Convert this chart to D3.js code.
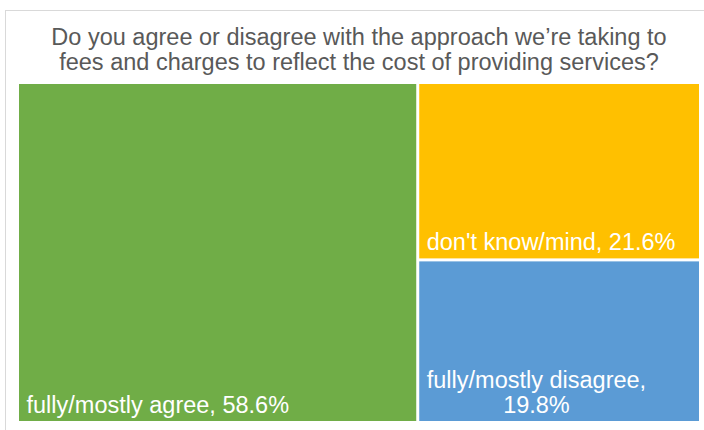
<!DOCTYPE html>
<html>
<head>
<meta charset="utf-8">
<script src="https://cdn.jsdelivr.net/npm/d3@7"></script>
<style>
  html, body { margin: 0; padding: 0; background: #ffffff; }
  svg { display: block; }
  text { font-family: "Liberation Sans", Arial, sans-serif; }
</style>
</head>
<body>
<svg id="chart" width="704" height="430"></svg>
<script>
// Survey responses: share of respondents per answer
const categories = ["fully/mostly agree", "don't know/mind", "fully/mostly disagree"];
const shares = [58.6, 21.6, 19.8];
const colors = ["#70AD47", "#FFC000", "#5B9BD5"];
const titleLines = [
  "Do you agree or disagree with the approach we\u2019re taking to",
  "fees and charges to reflect the cost of providing services?"
];

const svg = d3.select("#chart");

// chart frame (extends past the right and bottom edges of the view)
svg.append("rect")
  .attr("x", 5.5).attr("y", 10.5)
  .attr("width", 708).attr("height", 440)
  .attr("fill", "#ffffff")
  .attr("stroke", "#D9D9D9")
  .attr("stroke-width", 1);

// title
const plot = { x: 18, y: 83, w: 682, h: 339 };
const cx = plot.x + plot.w / 2;
svg.append("g").selectAll("text")
  .data(titleLines)
  .join("text")
  .attr("x", cx)
  .attr("y", (d, i) => 44.5 + i * 25.5)
  .attr("text-anchor", "middle")
  .attr("font-size", 23.5)
  .attr("fill", "#595959")
  .text(d => d);

// treemap layout
const root = d3.hierarchy({
  children: categories.map((c, i) => ({ name: c, value: shares[i], color: colors[i] }))
}).sum(d => d.value || 0);

d3.treemap()
  .tile(d3.treemapBinary)
  .size([plot.w, plot.h])
  .paddingInner(3)
  .paddingOuter(1)
  .round(false)(root);

const cells = svg.append("g")
  .attr("transform", `translate(${plot.x},${plot.y})`)
  .selectAll("g")
  .data(root.leaves())
  .join("g");

cells.append("rect")
  .attr("x", d => d.x0)
  .attr("y", d => d.y0)
  .attr("width", d => d.x1 - d.x0)
  .attr("height", d => d.y1 - d.y0)
  .attr("fill", d => d.data.color);

// labels, anchored bottom-left; wrap after the comma when too wide
cells.each(function(d) {
  const g = d3.select(this);
  const full = `${d.data.name}, ${d3.format(".1f")(d.data.value)}%`;
  const fs = 23.5, padX = 7.5, padB = 8.5, lh = 25;
  const t = g.append("text")
    .attr("font-size", fs)
    .attr("fill", "#ffffff")
    .attr("x", d.x0 + padX)
    .attr("y", d.y1 - padB)
    .text(full);
  const avail = d.x1 - d.x0 - 2 * padX;
  if (t.node().getComputedTextLength() > avail) {
    t.remove();
    const lines = [`${d.data.name},`, `${d3.format(".1f")(d.data.value)}%`];
    const probe = g.append("text").attr("font-size", fs).text(lines[0]);
    const w0 = probe.node().getComputedTextLength();
    probe.remove();
    const mid = d.x0 + padX + w0 / 2;
    g.append("text")
      .attr("font-size", fs)
      .attr("fill", "#ffffff")
      .attr("text-anchor", "middle")
      .selectAll("tspan")
      .data(lines)
      .join("tspan")
      .attr("x", mid)
      .attr("y", (l, i) => d.y1 - padB - (lines.length - 1 - i) * lh)
      .text(l => l);
  }
});
</script>
</body>
</html>
